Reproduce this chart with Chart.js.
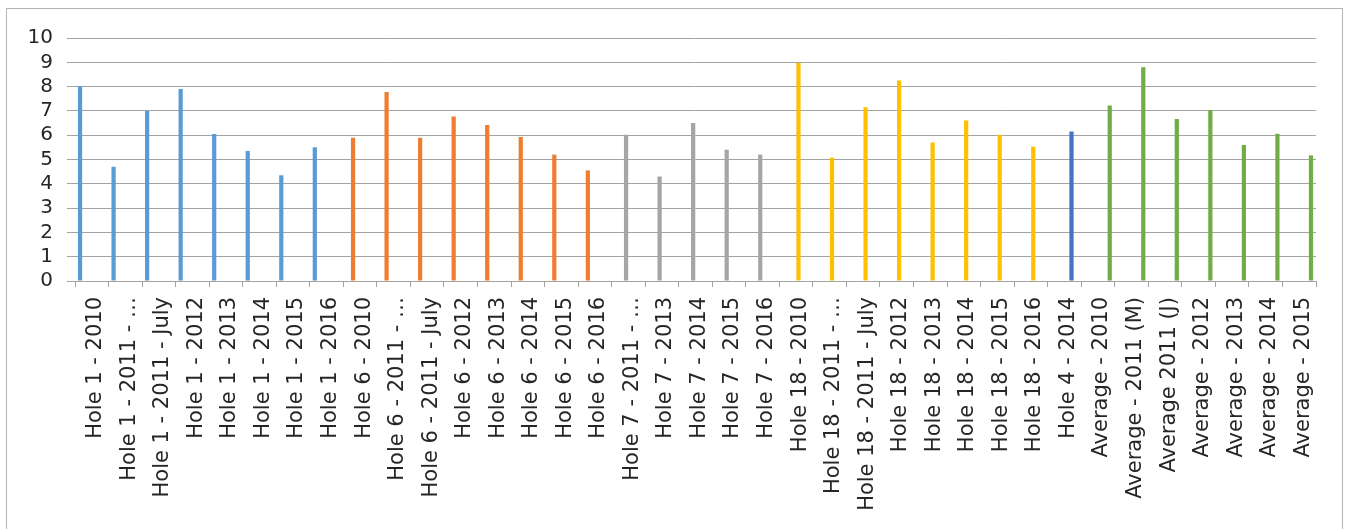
<!DOCTYPE html>
<html>
<head>
<meta charset="utf-8">
<script src="https://cdn.jsdelivr.net/npm/chart.js@4/dist/chart.umd.min.js"></script>
<style>
  html, body { margin: 0; padding: 0; background: #fff; overflow: hidden; }
  .frame {
    position: absolute;
    left: 6px;
    top: 8px;
    width: 1335px;
    height: 560px;
    border: 1px solid #b4b4b4;
    background: #fff;
  }
  .frame canvas { position: absolute; left: 0; top: 0; }
</style>
</head>
<body>
<div class="frame">
  <canvas id="chart" width="1335" height="521" style="width:1335px;height:521px"></canvas>
</div>
<script>
// categories, in the order they appear on the axis
const hole1Labels = ["Hole 1 - 2010", "Hole 1 - 2011 - \u2026", "Hole 1 - 2011 - July", "Hole 1 - 2012", "Hole 1 - 2013", "Hole 1 - 2014", "Hole 1 - 2015", "Hole 1 - 2016"];
const hole6Labels = ["Hole 6 - 2010", "Hole 6 - 2011 - \u2026", "Hole 6 - 2011 - July", "Hole 6 - 2012", "Hole 6 - 2013", "Hole 6 - 2014", "Hole 6 - 2015", "Hole 6 - 2016"];
const hole7Labels = ["Hole 7 - 2011 - \u2026", "Hole 7 - 2013", "Hole 7 - 2014", "Hole 7 - 2015", "Hole 7 - 2016"];
const hole18Labels = ["Hole 18 - 2010", "Hole 18 - 2011 - \u2026", "Hole 18 - 2011 - July", "Hole 18 - 2012", "Hole 18 - 2013", "Hole 18 - 2014", "Hole 18 - 2015", "Hole 18 - 2016"];
const hole4Labels = ["Hole 4 - 2014"];
const averageLabels = ["Average - 2010", "Average - 2011 (M)", "Average 2011 (J)", "Average - 2012", "Average - 2013", "Average - 2014", "Average - 2015"];

// values
const hole1Values = [8.0, 4.7, 7.0, 7.9, 6.05, 5.35, 4.35, 5.5];
const hole6Values = [5.9, 7.78, 5.9, 6.77, 6.42, 5.93, 5.2, 4.55];
const hole7Values = [6.02, 4.3, 6.5, 5.4, 5.2];
const hole18Values = [8.97, 5.08, 7.15, 8.25, 5.7, 6.6, 6.02, 5.52];
const hole4Values = [6.15];
const averageValues = [7.22, 8.8, 6.67, 7.03, 5.6, 6.06, 5.17];

const yTicks = [0, 1, 2, 3, 4, 5, 6, 7, 8, 9, 10];

const groups = [
  { name: "Hole 1", labels: hole1Labels, values: hole1Values, color: "#5b9bd5" },
  { name: "Hole 6", labels: hole6Labels, values: hole6Values, color: "#ed7d31" },
  { name: "Hole 7", labels: hole7Labels, values: hole7Values, color: "#a5a5a5" },
  { name: "Hole 18", labels: hole18Labels, values: hole18Values, color: "#ffc000" },
  { name: "Hole 4", labels: hole4Labels, values: hole4Values, color: "#4472c4" },
  { name: "Average", labels: averageLabels, values: averageValues, color: "#70ad47" },
];

const allLabels = groups.flatMap((g) => g.labels);

// each series only has values in its own block of categories, like the Excel original
function buildDatasets() {
  let start = 0;
  return groups.map((g) => {
    const data = allLabels.map(() => null);
    g.values.forEach((v, i) => { data[start + i] = v; });
    start += g.labels.length;
    return {
      label: g.name,
      data,
      backgroundColor: g.color,
      borderWidth: 0,
      categoryPercentage: 0.84,
      barPercentage: 0.9,
    };
  });
}

const gridColor = "#a3a3a3";
const textColor = "#262626";

new Chart(document.getElementById("chart").getContext("2d"), {
  type: "bar",
  data: { labels: allLabels, datasets: buildDatasets() },
  options: {
    responsive: false,
    animation: false,
    layout: { padding: { top: 29, right: 26, left: 0, bottom: 0 } },
    plugins: { legend: { display: false }, tooltip: { enabled: false } },
    scales: {
      x: {
        grid: {
          drawOnChartArea: false,
          drawTicks: true,
          tickLength: 6,
          color: gridColor,
        },
        border: { display: true, color: gridColor, width: 1 },
        ticks: {
          autoSkip: false,
          minRotation: 90,
          maxRotation: 90,
          padding: 10,
          labelOffset: 4,
          color: textColor,
          font: { family: "DejaVu Sans", size: 21 },
        },
        afterFit(scale) { scale.height = 521 - 272; },
      },
      y: {
        min: 0,
        max: 10,
        afterBuildTicks(scale) { scale.ticks = yTicks.map((v) => ({ value: v })); },
        grid: { color: gridColor, tickLength: 8, lineWidth: 1 },
        border: { display: false },
        ticks: {
          autoSkip: false,
          stepSize: 1,
          padding: 14,
          color: textColor,
          font: { family: "DejaVu Sans", size: 20 },
        },
        afterFit(scale) { scale.width = 68; },
      },
    },
  },
});
</script>
</body>
</html>
